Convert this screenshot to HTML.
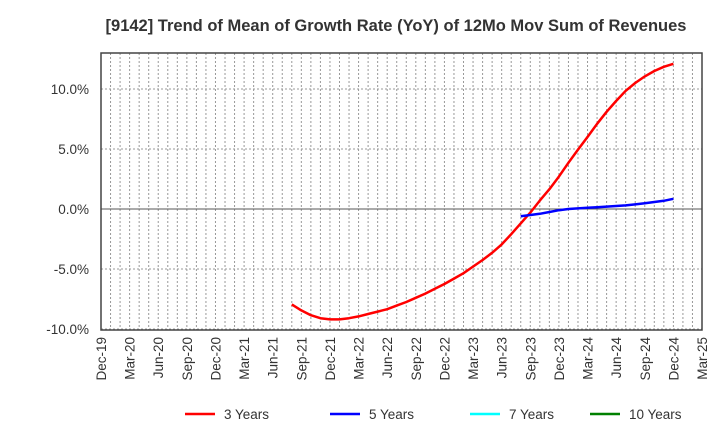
<!DOCTYPE html>
<html><head><meta charset="utf-8"><style>
body{margin:0;background:#fff;}
svg{font-family:"Liberation Sans",sans-serif;}
</style></head><body>
<svg id="c" width="720" height="440" xmlns="http://www.w3.org/2000/svg">
<text x="396" y="31" text-anchor="middle" font-size="16.5" font-weight="bold" fill="#333">[9142]  Trend of Mean of Growth Rate (YoY) of 12Mo Mov Sum of Revenues</text>
</svg>
<script>
const xTickLabels=["Dec-19","Mar-20","Jun-20","Sep-20","Dec-20","Mar-21","Jun-21","Sep-21","Dec-21","Mar-22","Jun-22","Sep-22","Dec-22","Mar-23","Jun-23","Sep-23","Dec-23","Mar-24","Jun-24","Sep-24","Dec-24","Mar-25"];
const yTicks=[-10,-5,0,5,10];
const red3Start=20;
const red3Values=[-7.95,-8.45,-8.85,-9.1,-9.2,-9.2,-9.1,-8.95,-8.75,-8.55,-8.35,-8.05,-7.75,-7.4,-7.05,-6.65,-6.25,-5.8,-5.35,-4.8,-4.25,-3.65,-2.95,-2.1,-1.2,-0.3,0.7,1.65,2.7,3.85,4.95,6.0,7.1,8.1,9.0,9.85,10.5,11.05,11.5,11.85,12.1];
const blue5Start=44;
const blue5Values=[-0.6,-0.5,-0.4,-0.25,-0.1,0.0,0.05,0.1,0.15,0.2,0.25,0.3,0.38,0.48,0.58,0.68,0.85];
const legendLabels=["3 Years","5 Years","7 Years","10 Years"];
const legendColors=["#ff0000","#0000ff","#00ffff","#008000"];

const NS="http://www.w3.org/2000/svg";
const svg=document.getElementById('c');
const L=101,R=702,T=53,B=330;
const nMonths=63;
const xS=m=>L+(R-L)*m/nMonths;
const yS=v=>209-12*v;
function mk(t,a,p){const e=document.createElementNS(NS,t);for(const k in a)e.setAttribute(k,a[k]);(p||svg).appendChild(e);return e;}

const grid=mk('g',{});


for(let m=1;m<nMonths;m++){
  const ln=mk('line',{x1:xS(m),x2:xS(m),y1:T,y2:B,stroke:'#999','stroke-width':1,'stroke-dasharray':'2,2'},grid);
  
  
}
yTicks.forEach(v=>{
  const ln=mk('line',{x1:L,x2:R,y1:yS(v),y2:yS(v),stroke:v===0?'#555':'#999','stroke-width':1,'stroke-dasharray':v===0?'':'2,2'},grid);
  
  
  const t=mk('text',{x:L-12,y:yS(v)+5,'text-anchor':'end','font-size':13.5,fill:'#333'});
  t.textContent=v.toFixed(1)+'%';
  
  
});
const frame=mk('rect',{x:L,y:T,width:R-L,height:B-T,fill:'none',stroke:'#444','stroke-width':1.5});


xTickLabels.forEach((s,i)=>{
  const x=xS(i*3);
  const t=mk('text',{x:0,y:0,transform:`translate(${x+5},${B+7}) rotate(-90)`,'text-anchor':'end','font-size':13.5,fill:'#333'});
  t.textContent=s;
  
  
});
function series(vals,start,color,name){
  const d=vals.map((v,i)=>(i?'L':'M')+xS(start+i).toFixed(1)+','+yS(v).toFixed(1)).join(' ');
  const p=mk('path',{d:d,fill:'none',stroke:color,'stroke-width':2.5,'stroke-linejoin':'round'});
  
  
}
series(red3Values,red3Start,'#ff0000','line-3-years');
series(blue5Values,blue5Start,'#0000ff','line-5-years');
const lx=[185,330,470,590];
legendLabels.forEach((s,i)=>{
  const g=mk('g',{});
  
  
  mk('line',{x1:lx[i],x2:lx[i]+30,y1:414,y2:414,stroke:legendColors[i],'stroke-width':2.5},g);
  const t=mk('text',{x:lx[i]+39,y:419,'font-size':13.5,fill:'#333'},g);
  t.textContent=s;
});
</script>
</body></html>
